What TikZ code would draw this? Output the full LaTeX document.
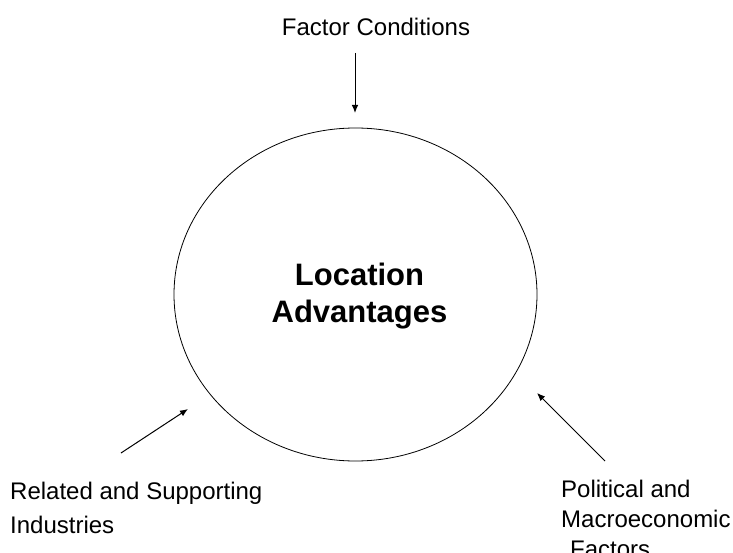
\documentclass[tikz,border=0pt]{standalone}
\usepackage{fontspec}
\setmainfont{Liberation Sans}
\usetikzlibrary{arrows.meta,shapes.geometric}
\begin{document}
\begin{tikzpicture}[x=1pt,y=-1pt,
  label/.style={inner sep=0pt, font=\fontsize{24}{30}\selectfont},
  connector/.style={line width=1pt, -{Latex[length=8pt,width=6.5pt]}},
  hub/.style={draw, ellipse, line width=0.8pt, inner sep=0pt,
              minimum width=363pt, minimum height=333pt}]
  \useasboundingbox (0,0) rectangle (733,553);

  % central ellipse and its title
  \node[hub] (loc) at (355.5,294.5) {};
  \node[inner sep=0pt, anchor=north, align=center,
        font=\fontsize{31}{37}\selectfont\bfseries] (loctext) at (359.5,263)
        {Location\\Advantages};

  % the three factors
  \node[label, anchor=base] (factor) at (376,36) {Factor Conditions};
  \node[label, anchor=north west, align=left,
        font=\fontsize{24}{34}\selectfont] (related) at (10,481.5)
        {Related and Supporting\\Industries};
  \node[label, anchor=north west, align=left] (political) at (561,479.5)
        {Political and\\Macroeconomic\\\hspace*{9pt}Factors};

  % arrow end points
  \coordinate (factorTail) at (355,53);
  \coordinate (factorTip)  at (355,113);
  \coordinate (relatedTail) at (121,453);
  \coordinate (relatedTip)  at (188,409);
  \coordinate (politicalTail) at (605,461);
  \coordinate (politicalTip)  at (537,393);

  \draw[connector] (factorTail) -- (factorTip);
  \draw[connector] (relatedTail) -- (relatedTip);
  \draw[connector] (politicalTail) -- (politicalTip);
\end{tikzpicture}
\end{document}
